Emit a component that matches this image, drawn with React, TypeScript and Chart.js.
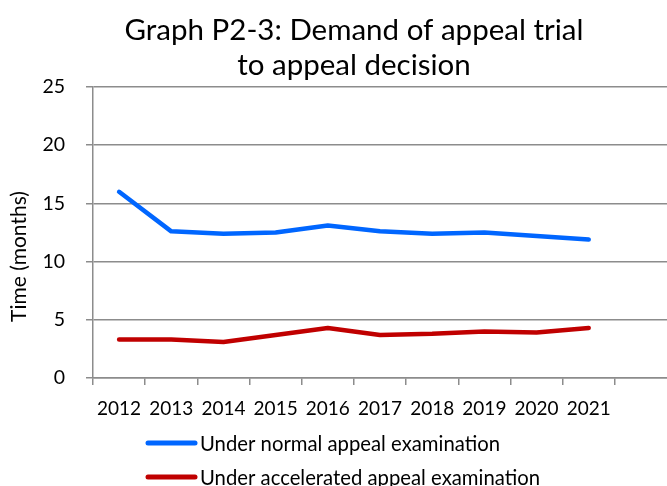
import React, { useEffect, useRef } from 'react';
import { Chart, registerables } from 'chart.js';

Chart.register(...registerables);

const years = [2012, 2013, 2014, 2015, 2016, 2017, 2018, 2019, 2020, 2021];
const normalLabel = 'Under normal appeal examination';
const acceleratedLabel = 'Under accelerated appeal examination';
const normalValues = [16.0, 12.6, 12.4, 12.5, 13.1, 12.6, 12.4, 12.5, 12.2, 11.9];
const acceleratedValues = [3.3, 3.3, 3.1, 3.7, 4.3, 3.7, 3.8, 4.0, 3.9, 4.3];
const yTicks = [0, 5, 10, 15, 20, 25];
const titleLines = ['Graph P2-3: Demand of appeal trial', 'to appeal decision'];
const yAxisTitle = 'Time (months)';

const FONT = 'Lato, "Open Sans", sans-serif';
const GRID = '#8c8c8c';
const BLUE = '#0066ff';
const RED = '#c00000';

const overlayText = {
  id: 'overlayText',
  afterDraw(chart: any) {
    const ctx = chart.ctx;
    const area = chart.chartArea;
    ctx.save();
    ctx.fillStyle = '#000';
    // title
    ctx.font = `29.5px ${FONT}`;
    ctx.textAlign = 'center';
    ctx.textBaseline = 'alphabetic';
    const cx = area.left + 261;
    titleLines.forEach((t, i) => ctx.fillText(t, cx, 40 + i * 35));
    // y-axis title
    ctx.save();
    ctx.translate(19, (area.top + area.bottom) / 2 + 24);
    ctx.rotate(-Math.PI / 2);
    ctx.font = `21px ${FONT}`;
    ctx.textAlign = 'center';
    ctx.textBaseline = 'middle';
    ctx.fillText(yAxisTitle, 0, 0);
    ctx.restore();
    // legend
    chart.data.datasets.forEach((ds: any, i: number) => {
      const y = 443 + i * 34;
      ctx.beginPath();
      ctx.strokeStyle = ds.borderColor;
      ctx.lineWidth = 5;
      ctx.lineCap = 'round';
      ctx.moveTo(148, y);
      ctx.lineTo(195, y);
      ctx.stroke();
      ctx.font = `20.3px ${FONT}`;
      ctx.textAlign = 'left';
      ctx.textBaseline = 'middle';
      ctx.fillStyle = '#000';
      ctx.fillText(ds.label, 200, y + 1);
    });
    ctx.restore();
  },
};

export default function App() {
  const ref = useRef<HTMLCanvasElement>(null);
  useEffect(() => {
    if (!ref.current) return;
    const chart = new Chart(ref.current, {
      type: 'line',
      data: {
        datasets: [
          {
            label: normalLabel,
            data: years.map((x, i) => ({ x, y: normalValues[i] })),
            borderColor: BLUE,
            backgroundColor: BLUE,
            borderWidth: 4.5,
            pointRadius: 0,
            borderCapStyle: 'round',
            borderJoinStyle: 'round',
            tension: 0,
          },
          {
            label: acceleratedLabel,
            data: years.map((x, i) => ({ x, y: acceleratedValues[i] })),
            borderColor: RED,
            backgroundColor: RED,
            borderWidth: 4.5,
            pointRadius: 0,
            borderCapStyle: 'round',
            borderJoinStyle: 'round',
            tension: 0,
          },
        ],
      },
      options: {
        animation: false,
        responsive: true,
        maintainAspectRatio: false,
        layout: { padding: { top: 87, left: 0, right: 0, bottom: 58 } },
        plugins: {
          legend: { display: false },
          title: { display: false },
          tooltip: { enabled: false },
        },
        scales: {
          x: {
            type: 'linear',
            min: years[0] - 0.5,
            max: years[years.length - 1] + 1.5,
            afterBuildTicks: (scale: any) => {
              scale.ticks = years.map((value) => ({ value }));
            },
            afterFit: (scale: any) => {
              scale.height = 50;
            },
            ticks: {
              color: '#000',
              font: { family: FONT, size: 19 },
              padding: 12,
              maxRotation: 0,
              autoSkip: false,
              callback: (v: any) => String(v),
            },
            grid: {
              offset: true,
              drawOnChartArea: false,
              drawTicks: true,
              tickLength: 7,
              color: GRID,
              lineWidth: 1.5,
            },
            border: { display: true, color: GRID, width: 1.5 },
          },
          y: {
            min: 0,
            max: 25,
            afterBuildTicks: (scale: any) => {
              scale.ticks = yTicks.map((value) => ({ value }));
            },
            afterFit: (scale: any) => {
              scale.width = 93;
            },
            ticks: {
              color: '#000',
              font: { family: FONT, size: 19.5 },
              padding: 21,
            },
            grid: {
              color: GRID,
              lineWidth: 1.5,
              tickLength: 7,
            },
            border: { display: true, color: GRID, width: 1.5 },
          },
        },
      },
      plugins: [overlayText],
    });
    return () => chart.destroy();
  }, []);
  return (
    <div style={{ position: 'fixed', left: 0, top: 0, width: 667, height: 486, background: '#fff' }}>
      <canvas ref={ref} />
    </div>
  );
}
